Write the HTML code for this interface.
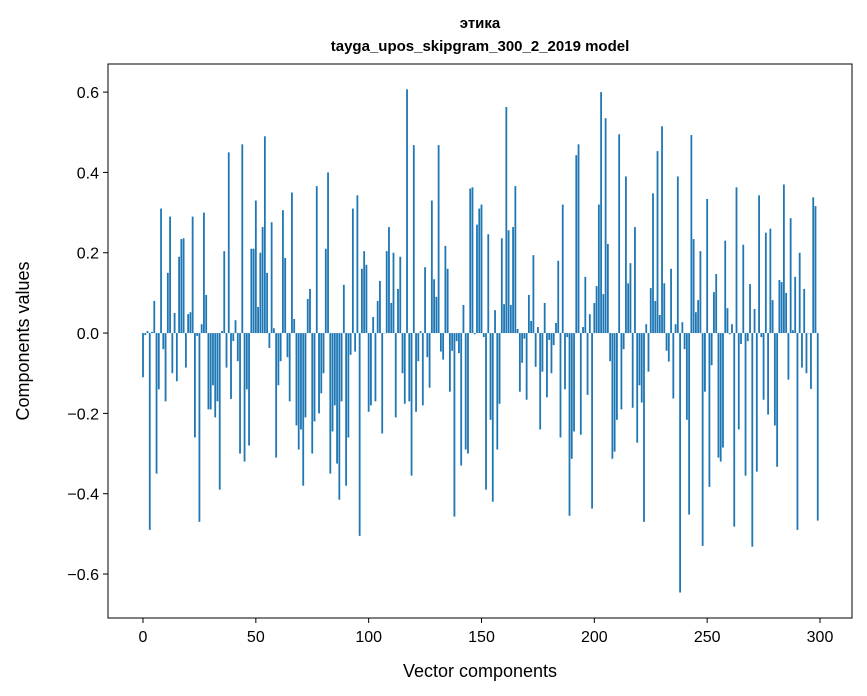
<!DOCTYPE html>
<html><head><meta charset="utf-8"><style>
body{margin:0;background:#fff;}
svg{display:block;font-family:"Liberation Sans","DejaVu Sans",sans-serif;}
</style></head><body>
<svg id="chart" width="867" height="696" xmlns="http://www.w3.org/2000/svg">
<text x="480" y="28" text-anchor="middle" font-size="15" font-weight="bold">этика</text>
<text x="480" y="51" text-anchor="middle" font-size="15" font-weight="bold">tayga_upos_skipgram_300_2_2019 model</text>
<g id="bars"></g>
<rect x="108" y="64" width="744" height="554" fill="none" stroke="#000" stroke-width="1"/>
<g id="xticks"></g>
<g id="yticks"></g>
<text x="480" y="677" text-anchor="middle" font-size="18">Vector components</text>
<text transform="translate(29,341) rotate(-90)" text-anchor="middle" font-size="18">Components values</text>
</svg>
<script>
const values = [
-0.11,-0.005,0.005,-0.49,0.003,0.08,-0.35,-0.14,0.31,-0.04,
-0.17,0.15,0.29,-0.10,0.05,-0.12,0.19,0.234,0.236,-0.086,
0.047,0.052,0.29,-0.26,-0.007,-0.47,0.022,0.30,0.095,-0.19,
-0.19,-0.13,-0.21,-0.17,-0.39,0.005,0.204,-0.086,0.45,-0.164,
-0.02,0.032,-0.07,-0.30,0.47,-0.32,-0.14,-0.28,0.21,0.21,
0.33,0.065,0.20,0.264,0.49,0.15,-0.037,0.276,0.012,-0.31,
-0.13,-0.07,0.306,0.187,-0.06,-0.17,0.35,0.035,-0.23,-0.29,
-0.24,-0.38,-0.21,0.085,0.11,-0.30,-0.22,0.366,-0.20,-0.15,
-0.10,0.21,0.40,-0.35,-0.245,-0.18,-0.325,-0.415,-0.17,0.12,
-0.38,-0.26,-0.054,0.31,-0.046,0.343,-0.505,0.16,0.204,0.17,
-0.196,-0.18,0.04,-0.17,0.08,0.13,-0.25,0.0,0.204,0.264,
0.075,0.20,-0.21,0.11,0.19,-0.10,-0.176,0.607,-0.17,-0.355,
0.468,-0.196,-0.07,0.005,-0.18,0.164,-0.06,-0.136,0.33,0.134,
0.09,0.468,-0.046,-0.066,0.217,0.16,-0.146,-0.044,-0.457,-0.02,
-0.05,-0.33,0.07,-0.29,-0.30,0.36,0.363,-0.003,0.27,0.31,
0.32,-0.01,-0.39,0.246,-0.216,-0.42,0.057,-0.29,-0.176,0.236,
0.072,0.563,0.256,0.07,0.264,0.366,0.01,-0.146,-0.074,-0.014,
-0.166,0.095,0.03,0.194,-0.084,0.015,-0.24,-0.096,0.075,-0.16,
-0.017,-0.10,-0.03,0.025,0.18,-0.26,0.32,-0.14,-0.01,-0.455,
-0.313,-0.245,0.443,0.47,-0.253,0.015,0.14,-0.154,0.047,-0.437,
0.075,0.117,0.32,0.60,0.097,0.535,0.222,-0.07,-0.313,-0.295,
-0.216,0.495,-0.19,-0.04,0.39,0.124,0.174,-0.186,0.264,-0.273,
-0.13,-0.173,-0.47,0.022,-0.096,0.112,0.348,0.08,0.453,0.045,
0.515,0.124,-0.044,-0.071,0.16,-0.163,0.022,0.39,-0.646,0.027,
-0.04,-0.216,-0.452,0.493,0.234,0.052,0.082,0.204,-0.53,-0.146,
0.334,-0.383,-0.08,0.102,0.147,-0.31,-0.32,-0.285,0.23,0.062,
-0.003,0.022,-0.482,0.363,-0.24,-0.027,0.22,-0.355,-0.02,0.122,
-0.532,0.06,-0.345,0.343,-0.01,-0.166,0.25,-0.203,0.26,0.082,
-0.23,-0.333,0.132,0.127,0.37,0.10,-0.116,0.286,0.007,0.14,
-0.49,0.20,-0.086,0.11,-0.10,0.0,-0.139,0.338,0.316,-0.467
];
const xTicks = [0,50,100,150,200,250,300];
const yTicks = [-0.6,-0.4,-0.2,0,0.2,0.4,0.6];
const NS="http://www.w3.org/2000/svg";
const X0=108,X1=852,Y0=64,Y1=618;
const xMin=-15.51,xMax=314.18,yMin=-0.7095,yMax=0.670;
function sx(v){return X0+(v-xMin)/(xMax-xMin)*(X1-X0);}
function sy(v){return Y1-(v-yMin)/(yMax-yMin)*(Y1-Y0);}
const bars=document.getElementById('bars');
values.forEach((v,i)=>{
  const r=document.createElementNS(NS,'rect');
  const x=sx(i-0.4),w=sx(i+0.4)-x;
  const y=Math.min(sy(v),sy(0)),h=Math.abs(sy(v)-sy(0));
  r.setAttribute('x',x);r.setAttribute('y',y);
  r.setAttribute('width',w);r.setAttribute('height',Math.max(h,0.3));
  r.setAttribute('fill','#1f77b4');
  
  
  bars.appendChild(r);
});
const xg=document.getElementById('xticks');
xTicks.forEach(t=>{
  const l=document.createElementNS(NS,'line');
  l.setAttribute('x1',sx(t));l.setAttribute('x2',sx(t));
  l.setAttribute('y1',Y1);l.setAttribute('y2',Y1+5);
  l.setAttribute('stroke','#000');
  
  
  xg.appendChild(l);
  const tx=document.createElementNS(NS,'text');
  tx.setAttribute('x',sx(t));tx.setAttribute('y',Y1+24);
  tx.setAttribute('text-anchor','middle');tx.setAttribute('font-size','16');
  tx.textContent=t;
  
  
  xg.appendChild(tx);
});
const yg=document.getElementById('yticks');
yTicks.forEach(t=>{
  const l=document.createElementNS(NS,'line');
  l.setAttribute('x1',X0-5);l.setAttribute('x2',X0);
  l.setAttribute('y1',sy(t));l.setAttribute('y2',sy(t));
  l.setAttribute('stroke','#000');
  
  
  yg.appendChild(l);
  const tx=document.createElementNS(NS,'text');
  tx.setAttribute('x',X0-9);tx.setAttribute('y',sy(t)+6);
  tx.setAttribute('text-anchor','end');tx.setAttribute('font-size','16');
  tx.textContent=(t<0?'\u2212':'')+Math.abs(t).toFixed(1);
  
  
  yg.appendChild(tx);
});
</script>
</body></html>
